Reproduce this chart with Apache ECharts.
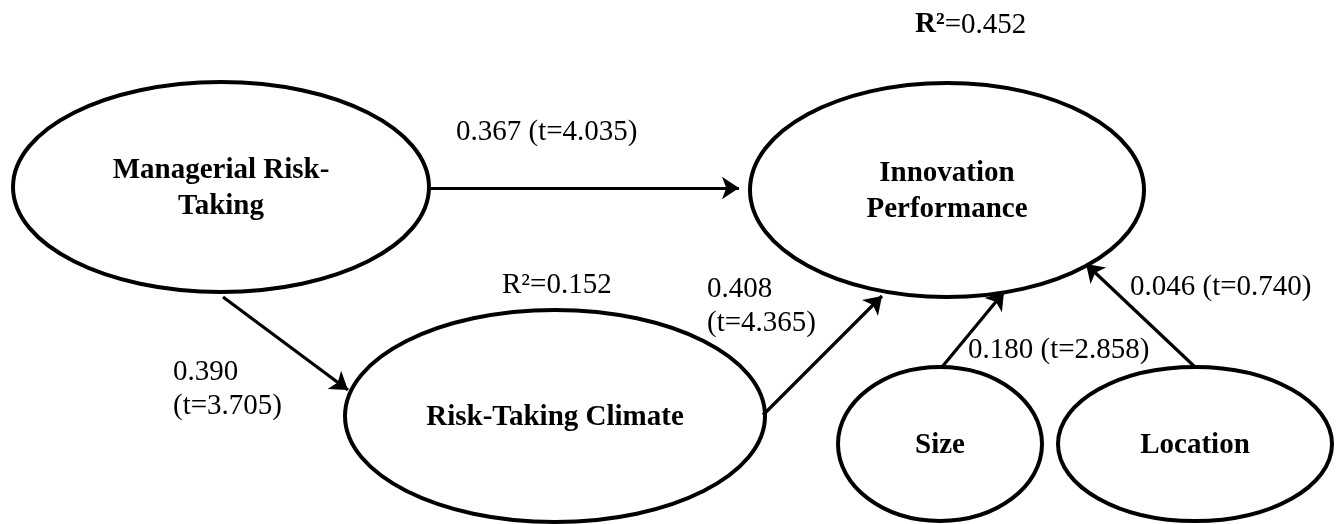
<!DOCTYPE html>
<html>
<head>
<meta charset="utf-8">
<script src="https://cdn.jsdelivr.net/npm/echarts@6/dist/echarts.min.js"></script>
<style>
html,body{margin:0;padding:0;background:#fff;}
#chart{width:1343px;height:524px;}
</style>
</head>
<body>
<div id="chart"></div>
<script>
// ---- chart values ----
const nodeNames = ['Managerial Risk-\nTaking', 'Innovation\nPerformance', 'Risk-Taking Climate', 'Size', 'Location'];
const pathFrom = [0, 0, 2, 3, 4];
const pathTo = [1, 2, 1, 1, 1];
const pathCoefs = [0.367, 0.390, 0.408, 0.180, 0.046];
const pathTValues = [4.035, 3.705, 4.365, 2.858, 0.740];
const r2Nodes = [1, 2];
const r2Values = [0.452, 0.152];

// ---- layout (diagram units = pixels of a 1343 x 524 canvas) ----
const nodeLayout = [
  { c: [221, 187], r: [208, 105] },
  { c: [947, 190], r: [197, 107] },
  { c: [555, 416], r: [210, 106] },
  { c: [940, 444], r: [102, 77] },
  { c: [1195, 444], r: [137, 77] }
];
const arrowLayout = [
  [[430, 188], [739, 188]],
  [[223, 297], [348, 390]],
  [[763, 415], [882, 296]],
  [[942, 367], [1004, 292]],
  [[1195, 367], [1086, 264]]
];
const pathLabelLayout = [
  { p: [456, 132], twoLine: false },
  { p: [173, 389], twoLine: true },
  { p: [707, 306], twoLine: true },
  { p: [968, 350], twoLine: false },
  { p: [1130, 287], twoLine: false }
];
const r2LabelLayout = [
  { p: [915, 25], bold: true },
  { p: [502, 285], bold: false }
];

const FONT = '"Liberation Serif", "Times New Roman", serif';
const FS = 29;

const nodeData = nodeNames.map((n, i) => [nodeLayout[i].c[0], nodeLayout[i].c[1], nodeLayout[i].r[0], nodeLayout[i].r[1], n]);

const textData = [];
pathCoefs.forEach((c, i) => {
  const sep = pathLabelLayout[i].twoLine ? '\n' : ' ';
  textData.push([pathLabelLayout[i].p[0], pathLabelLayout[i].p[1], c.toFixed(3) + sep + '(t=' + pathTValues[i].toFixed(3) + ')', 0]);
});
r2Values.forEach((v, i) => {
  const lab = r2LabelLayout[i].bold ? '{b|R\u00B2}{n|=' + v.toFixed(3) + '}' : '{n|R\u00B2=' + v.toFixed(3) + '}';
  textData.push([r2LabelLayout[i].p[0], r2LabelLayout[i].p[1], lab, 1]);
});

const arrowData = pathFrom.map((f, i) => ({ name: nodeNames[f] + '->' + nodeNames[pathTo[i]], coords: arrowLayout[i] }));

const chart = echarts.init(document.getElementById('chart'), null, { renderer: 'canvas' });
chart.setOption({
  backgroundColor: '#ffffff',
  animation: false,
  grid: { left: 0, right: 0, top: 0, bottom: 0 },
  xAxis: { type: 'value', min: 0, max: 1343, show: false },
  yAxis: { type: 'value', min: 0, max: 524, inverse: true, show: false },
  series: [
    {
      type: 'custom',
      coordinateSystem: 'cartesian2d',
      data: nodeData,
      renderItem: function (params, api) {
        const c = api.coord([api.value(0), api.value(1)]);
        const s = api.size([api.value(2), api.value(3)]);
        return {
          type: 'group',
          children: [
            {
              type: 'ellipse',
              shape: { cx: c[0], cy: c[1], rx: s[0], ry: s[1] },
              style: { fill: '#ffffff', stroke: '#000000', lineWidth: 4 }
            },
            {
              type: 'text',
              style: {
                text: nodeData[params.dataIndex][4],
                x: c[0], y: c[1] + 2,
                align: 'center', verticalAlign: 'middle',
                font: 'bold ' + FS + 'px ' + FONT,
                lineHeight: 36,
                fill: '#000000'
              }
            }
          ]
        };
      }
    },
    {
      type: 'lines',
      coordinateSystem: 'cartesian2d',
      data: arrowData,
      symbol: ['none', 'arrow'],
      symbolSize: [14, 17],
      lineStyle: { color: '#000000', width: 3.2, opacity: 1 },
      z: 3
    },
    {
      type: 'custom',
      coordinateSystem: 'cartesian2d',
      data: textData,
      z: 4,
      renderItem: function (params, api) {
        const c = api.coord([api.value(0), api.value(1)]);
        const d = textData[params.dataIndex];
        return {
          type: 'text',
          style: {
            text: d[2],
            x: c[0], y: c[1],
            align: 'left', verticalAlign: 'middle',
            font: FS + 'px ' + FONT,
            lineHeight: 34,
            fill: '#000000',
            rich: {
              b: { fontFamily: FONT, fontSize: FS, fontWeight: 'bold', fill: '#000' },
              n: { fontFamily: FONT, fontSize: FS, fill: '#000' }
            }
          }
        };
      }
    }
  ]
});
</script>
</body>
</html>
